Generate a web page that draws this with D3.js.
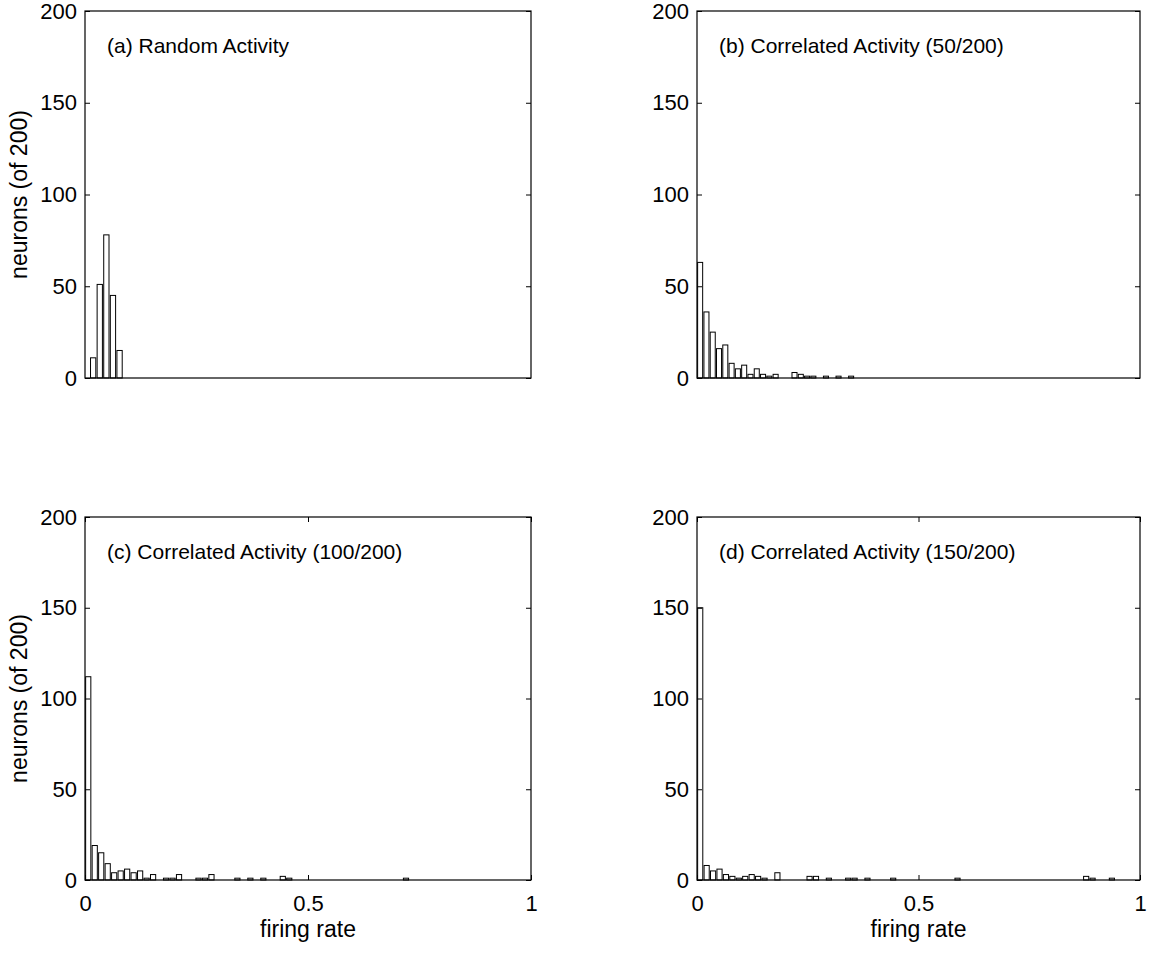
<!DOCTYPE html>
<html>
<head>
<meta charset="utf-8">
<script src="https://cdn.jsdelivr.net/npm/d3@7"></script>
<style>
  html, body { margin: 0; padding: 0; background: #fff; }
  svg { display: block; }
  text { font-family: "Liberation Sans", Arial, sans-serif; fill: #000; }
</style>
</head>
<body>
<script>
// Firing-rate histograms of 200 neurons under four activity conditions.

const titles = [
  "(a) Random Activity",
  "(b) Correlated Activity (50/200)",
  "(c) Correlated Activity (100/200)",
  "(d) Correlated Activity (150/200)"
];

// Histogram bin width and left edge of bin 0 (firing-rate units) per panel
const binWidths  = [0.0148, 0.0142, 0.01454, 0.01452];
const binOrigins = [0.0109, 0, 0, 0];

// Non-empty bins (index) and neuron counts
const binsA   = [0, 1, 2, 3, 4];
const countsA = [11, 51, 78, 45, 15];

const binsB   = [0, 1, 2, 3, 4, 5, 6, 7, 8, 9, 10, 11, 12, 15, 16, 17, 18, 20, 22, 24];
const countsB = [63, 36, 25, 16, 18, 8, 5, 7, 2, 5, 2, 1, 2, 3, 2, 1, 1, 1, 1, 1];

const binsC   = [0, 1, 2, 3, 4, 5, 6, 7, 8, 9, 10, 12, 13, 14, 17, 18, 19, 23, 25, 27, 30, 31, 49];
const countsC = [112, 19, 15, 9, 4, 5, 6, 4, 5, 1, 3, 1, 1, 3, 1, 1, 3, 1, 1, 1, 2, 1, 1];

const binsD   = [0, 1, 2, 3, 4, 5, 6, 7, 8, 9, 10, 12, 17, 18, 20, 23, 24, 26, 30, 40, 60, 61, 64];
const countsD = [150, 8, 5, 6, 3, 2, 1, 2, 3, 2, 1, 4, 2, 2, 1, 1, 1, 1, 1, 1, 2, 1, 1];

const yTicks = [0, 50, 100, 150, 200];
const xTicks = [0, 0.5, 1];
const xTickLabels = ["0", "0.5", "1"];

const yLabel = "neurons (of 200)";
const xLabel = "firing rate";

const binsList = [binsA, binsB, binsC, binsD];
const countsList = [countsA, countsB, countsC, countsD];

// Panel frames in page pixels
const frames = [
  { left: 85,  top: 11,  width: 446, height: 367, row: 0, col: 0 },
  { left: 697, top: 11,  width: 443, height: 367, row: 0, col: 1 },
  { left: 85,  top: 517, width: 446, height: 363, row: 1, col: 0 },
  { left: 697, top: 517, width: 443, height: 363, row: 1, col: 1 }
];

const TITLE_FONT = 21;
const TICK_FONT = 22;
const LABEL_FONT = 23;

const svg = d3.select("body").append("svg")
  .attr("width", 1153)
  .attr("height", 953);

frames.forEach((f, i) => {
  const g = svg.append("g").attr("transform", `translate(${f.left},${f.top})`);
  const x = d3.scaleLinear().domain([0, 1]).range([0, f.width]);
  const y = d3.scaleLinear().domain([0, 200]).range([f.height, 0]);

  const w = binWidths[i];
  const o = binOrigins[i];
  const data = binsList[i].map((b, j) => ({
    lo: o + b * w,
    n: countsList[i][j]
  }));

  // bars: 80% of the bin, centred
  g.selectAll("rect.bar").data(data).enter().append("rect")
    .attr("class", "bar")
    .attr("x", d => x(d.lo + 0.1 * w))
    .attr("width", d => x(d.lo + 0.9 * w) - x(d.lo + 0.1 * w))
    .attr("y", d => y(d.n))
    .attr("height", d => y(0) - y(d.n))
    .attr("fill", "#fff")
    .attr("stroke", "#000")
    .attr("stroke-width", 1);

  // y axis, ticks pointing inward, plus mirrored ticks on the right
  const yAxis = d3.axisLeft(y).tickValues(yTicks).tickFormat(d3.format("d"))
    .tickSizeInner(-5).tickSizeOuter(0).tickPadding(8);
  const ya = g.append("g").call(yAxis);
  ya.select(".domain").remove();
  ya.selectAll("text").style("font-size", TICK_FONT + "px").attr("font-family", null);

  const yAxisR = d3.axisRight(y).tickValues(yTicks).tickFormat("")
    .tickSizeInner(-5).tickSizeOuter(0);
  const yr = g.append("g").attr("transform", `translate(${f.width},0)`).call(yAxisR);
  yr.select(".domain").remove();

  if (f.row === 1) {
    const xAxis = d3.axisBottom(x).tickValues(xTicks)
      .tickFormat((d, k) => xTickLabels[k])
      .tickSizeInner(-5).tickSizeOuter(0).tickPadding(15);
    const xa = g.append("g").attr("transform", `translate(0,${f.height})`).call(xAxis);
    xa.select(".domain").remove();
    xa.selectAll("text").style("font-size", TICK_FONT + "px").attr("font-family", null);

    const xAxisT = d3.axisTop(x).tickValues(xTicks).tickFormat("")
      .tickSizeInner(-5).tickSizeOuter(0);
    const xt = g.append("g").call(xAxisT);
    xt.select(".domain").remove();

    g.append("text")
      .attr("x", x(0.5))
      .attr("y", f.height + 57)
      .attr("text-anchor", "middle")
      .style("font-size", LABEL_FONT + "px")
      .text(xLabel);
  }

  // frame
  g.append("rect")
    .attr("x", 0).attr("y", 0)
    .attr("width", f.width).attr("height", f.height)
    .attr("fill", "none")
    .attr("stroke", "#000")
    .attr("stroke-width", 1.2);

  g.append("text")
    .attr("x", 22)
    .attr("y", 42)
    .style("font-size", TITLE_FONT + "px")
    .text(titles[i]);

  if (f.col === 0) {
    g.append("text")
      .attr("transform", `translate(${-58},${f.height / 2}) rotate(-90)`)
      .attr("text-anchor", "middle")
      .style("font-size", LABEL_FONT + "px")
      .text(yLabel);
  }
});
</script>
</body>
</html>
